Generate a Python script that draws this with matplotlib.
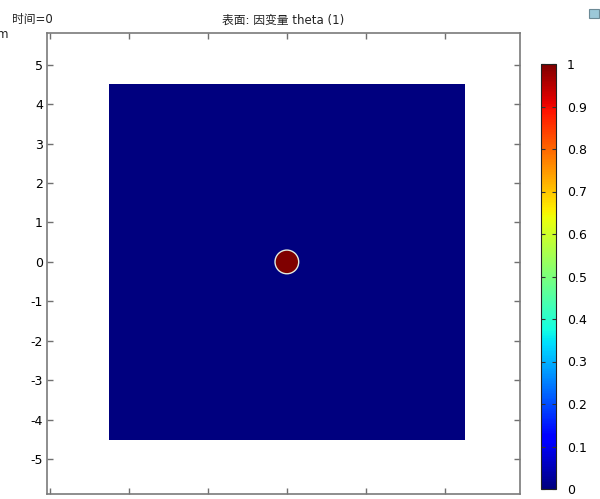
import numpy as np
import matplotlib
matplotlib.use("Agg")
import matplotlib.pyplot as plt
from matplotlib.patches import Circle, Rectangle

plt.rcParams['font.family'] = ['DejaVu Sans', 'Noto Sans CJK SC']
plt.rcParams['axes.unicode_minus'] = False

# domain and initial condition (theta = 1 inside the small disc, 0 elsewhere)
domain_half = 4.5
disc_radius = 0.3
theta_inside = 1.0
theta_outside = 0.0

x_ticks = [-6, -4, -2, 0, 2, 4]
y_ticks = [-5, -4, -3, -2, -1, 0, 1, 2, 3, 4, 5]
cbar_ticks = [0, 0.1, 0.2, 0.3, 0.4, 0.5, 0.6, 0.7, 0.8, 0.9, 1]
cbar_labels = ["0", "0.1", "0.2", "0.3", "0.4", "0.5", "0.6", "0.7", "0.8", "0.9", "1"]

title_text = "表面: 因变量 theta (1)"
time_text = "时间=0"

#   build the field on a grid
n = 600
g = np.linspace(-domain_half, domain_half, n)
gx, gy = np.meshgrid(g, g)
theta = np.where(gx**2 + gy**2 <= disc_radius**2, theta_inside, theta_outside)

fig = plt.figure(figsize=(6.0, 4.99), dpi=100)
ax = fig.add_axes([47 / 600, 5 / 499, 473 / 600, 461 / 499])

im = ax.imshow(theta, extent=[-domain_half, domain_half, -domain_half, domain_half],
               origin='lower', cmap='jet', vmin=0, vmax=1, interpolation='bilinear')
ax.add_patch(Circle((0, 0), disc_radius, facecolor='none', edgecolor='#e2eadf', lw=1.0))

ax.set_xlim(-6.08, 5.91)
ax.set_ylim(-5.88, 5.80)
ax.set_aspect('auto')
ax.set_xticks(x_ticks)
ax.set_xticklabels([])
ax.set_yticks(y_ticks)
ax.set_yticklabels([str(v) for v in y_ticks])
ax.tick_params(direction='in', length=4, width=1, color='#707070', labelsize=9,
               top=True, right=True, bottom=True, left=True, pad=3)
for sp in ax.spines.values():
    sp.set_color('#7a7a7a')
    sp.set_linewidth(1.2)

#   colorbar
cax = fig.add_axes([541 / 600, 10 / 499, 15 / 600, 425 / 499])
cb = fig.colorbar(im, cax=cax)
cb.set_ticks(cbar_ticks)
cb.set_ticklabels(cbar_labels)
cax.tick_params(direction='in', length=3, width=0.8, color='#333333', labelsize=9,
                left=True, right=True, pad=8)
cb.outline.set_edgecolor('#222222')
cb.outline.set_linewidth(0.8)

fig.text(283 / 600, 1 - 20 / 499, title_text, ha='center', va='center', fontsize=8.5, color='#222222')
fig.text(12 / 600, 1 - 20 / 499, time_text, ha='left', va='center', fontsize=8.5, color='#222222')
fig.text(8 / 600, 1 - 34 / 499, "m", ha='right', va='center', fontsize=8.5, color='#222222')

# small toolbar icon in the corner
fig.patches.append(Rectangle((589 / 600, 1 - 18 / 499), 10 / 600, 9 / 499,
                             transform=fig.transFigure, facecolor='#9cc8d8',
                             edgecolor='#6c8a96', lw=0.8))

fig.savefig("out.png", dpi=100)
